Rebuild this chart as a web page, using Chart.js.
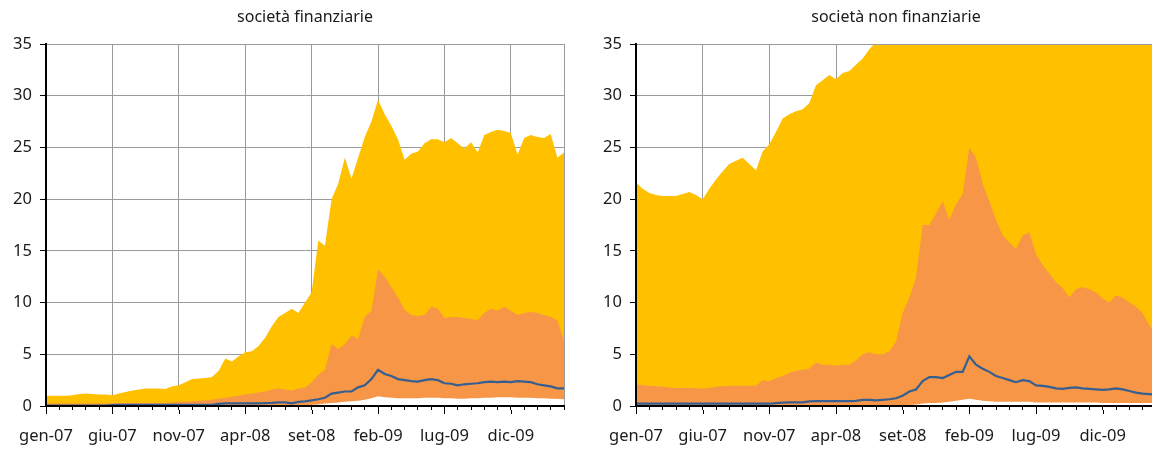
<!DOCTYPE html>
<html>
<head>
<meta charset="utf-8">
<script src="https://cdn.jsdelivr.net/npm/chart.js@4.4.0/dist/chart.umd.min.js"></script>
<style>
    html, body { margin: 0; padding: 0; background: #fff; width: 1152px; height: 450px; overflow: hidden; }
    .pannello { position: absolute; top: 0; height: 450px; }
    #pFin { left: 0; width: 580px; }
    #pNonFin { left: 590px; width: 582px; }
</style>
</head>
<body>
<div class="pannello" id="pFin"><canvas id="chartFin"></canvas></div>
<div class="pannello" id="pNonFin"><canvas id="chartNonFin"></canvas></div>
<script>
// mesi trascorsi da gennaio 2007 (passo di mezzo mese)
const mesi = [
    0, 0.5, 1, 1.5, 2, 2.5, 3, 3.5, 4, 4.5,
    5, 5.5, 6, 6.5, 7, 7.5, 8, 8.5, 9, 9.5,
    10, 10.5, 11, 11.5, 12, 12.5, 13, 13.5, 14, 14.5,
    15, 15.5, 16, 16.5, 17, 17.5, 18, 18.5, 19, 19.5,
    20, 20.5, 21, 21.5, 22, 22.5, 23, 23.5, 24, 24.5,
    25, 25.5, 26, 26.5, 27, 27.5, 28, 28.5, 29, 29.5,
    30, 30.5, 31, 31.5, 32, 32.5, 33, 33.5, 34, 34.5,
    35, 35.5, 36, 36.5, 37, 37.5, 38, 38.5, 39
];
const etichetteMesi = ['gen-07', 'giu-07', 'nov-07', 'apr-08', 'set-08', 'feb-09', 'lug-09', 'dic-09'];
const valoriAsseY = [0, 5, 10, 15, 20, 25, 30, 35];

// società finanziarie
const finGiallo = [
    1.0, 1.0, 1.0, 1.0, 1.05, 1.15, 1.2, 1.15, 1.1, 1.1,
    1.05, 1.2, 1.35, 1.5, 1.6, 1.7, 1.7, 1.7, 1.65, 1.9,
    2.0, 2.3, 2.6, 2.65, 2.7, 2.8, 3.4, 4.6, 4.3, 4.8,
    5.2, 5.3, 5.8, 6.6, 7.7, 8.6, 9.0, 9.4, 9.0, 10.0,
    11.0, 16.0, 15.5, 20.0, 21.5, 24.0, 22.0, 24.0, 26.0, 27.5,
    29.6, 28.2, 27.1, 25.8, 23.8, 24.4, 24.6, 25.4, 25.8, 25.8,
    25.5, 25.9, 25.4, 24.9, 25.5, 24.5, 26.2, 26.5, 26.7, 26.6,
    26.4, 24.3, 25.9, 26.2, 26.0, 25.9, 26.3, 24.0, 24.5
];
const finArancio = [
    0.25, 0.25, 0.25, 0.25, 0.25, 0.25, 0.25, 0.25, 0.25, 0.25,
    0.3, 0.3, 0.3, 0.3, 0.3, 0.3, 0.3, 0.3, 0.3, 0.35,
    0.4, 0.4, 0.45, 0.5, 0.55, 0.6, 0.7, 0.8, 0.9, 1.0,
    1.1, 1.2, 1.3, 1.4, 1.6, 1.7, 1.6, 1.5, 1.7, 1.8,
    2.3, 3.0, 3.5, 6.0, 5.5, 6.0, 6.8, 6.5, 8.6, 9.2,
    13.2, 12.5, 11.5, 10.5, 9.3, 8.8, 8.7, 8.8, 9.6, 9.4,
    8.5, 8.6, 8.6, 8.5, 8.4, 8.3, 9.0, 9.4, 9.2, 9.6,
    9.2, 8.8, 9.0, 9.1, 9.0, 8.8, 8.6, 8.3, 6.3
];
const finBianco = [
    0, 0, 0, 0, 0, 0, 0, 0, 0, 0,
    0, 0, 0, 0, 0, 0, 0, 0, 0, 0,
    0, 0, 0, 0, 0, 0, 0, 0, 0, 0,
    0, 0, 0, 0, 0, 0, 0, 0, 0, 0,
    0.1, 0.15, 0.25, 0.3, 0.35, 0.4, 0.45, 0.5, 0.6, 0.75,
    0.95, 0.85, 0.8, 0.75, 0.75, 0.75, 0.75, 0.8, 0.8, 0.8,
    0.75, 0.75, 0.7, 0.7, 0.75, 0.75, 0.8, 0.8, 0.85, 0.85,
    0.85, 0.8, 0.8, 0.8, 0.75, 0.75, 0.7, 0.7, 0.65
];
const finBlu = [
    0.05, 0.05, 0.05, 0.05, 0.05, 0.05, 0.05, 0.05, 0.05, 0.05,
    0.08, 0.1, 0.1, 0.1, 0.1, 0.1, 0.1, 0.1, 0.1, 0.1,
    0.1, 0.1, 0.1, 0.1, 0.1, 0.12, 0.2, 0.25, 0.25, 0.25,
    0.25, 0.25, 0.25, 0.28, 0.3, 0.35, 0.35, 0.25, 0.4, 0.45,
    0.55, 0.65, 0.8, 1.2, 1.3, 1.4, 1.4, 1.8, 2.0, 2.6,
    3.5, 3.1, 2.9, 2.6, 2.5, 2.4, 2.35, 2.5, 2.6, 2.5,
    2.2, 2.15, 2.0, 2.1, 2.15, 2.2, 2.3, 2.35, 2.3, 2.35,
    2.3, 2.4, 2.35, 2.3, 2.1, 2.0, 1.9, 1.7, 1.7
];

// società non finanziarie
const nonFinGiallo = [
    21.6, 21.0, 20.6, 20.4, 20.3, 20.3, 20.3, 20.5, 20.7, 20.4,
    20.0, 21.0, 21.9, 22.7, 23.4, 23.7, 24.0, 23.4, 22.8, 24.6,
    25.3, 26.5, 27.8, 28.2, 28.5, 28.7, 29.3, 31.0, 31.5, 32.0,
    31.6, 32.2, 32.4, 33.0, 33.6, 34.5, 35.2, 36.0, 37.0, 38.0,
    39.0, 40.0, 41.0, 42.0, 42.0, 42.0, 42.0, 42.0, 42.0, 42.0,
    42.0, 42.0, 42.0, 42.0, 42.0, 42.0, 42.0, 42.0, 42.0, 42.0,
    42.0, 42.0, 42.0, 42.0, 42.0, 42.0, 42.0, 42.0, 42.0, 42.0,
    42.0, 42.0, 42.0, 42.0, 42.0, 42.0, 42.0, 42.0, 42.0
];
const nonFinArancio = [
    2.1, 2.0, 1.95, 1.9, 1.85, 1.8, 1.75, 1.75, 1.75, 1.72,
    1.7, 1.75, 1.85, 1.9, 1.95, 1.95, 1.95, 1.95, 1.95, 2.5,
    2.4, 2.7, 2.9, 3.2, 3.4, 3.5, 3.6, 4.2, 4.0, 4.0,
    3.9, 4.0, 4.0, 4.4, 5.0, 5.2, 5.0, 5.0, 5.3, 6.2,
    9.0, 10.5, 12.4, 17.5, 17.5, 18.6, 19.8, 18.0, 19.5, 20.5,
    25.0, 24.0, 21.5, 19.8, 18.0, 16.5, 15.8, 15.2, 16.5, 16.8,
    14.7, 13.6, 12.8, 12.0, 11.4, 10.5, 11.3, 11.5, 11.3, 11.0,
    10.4, 10.0, 10.7, 10.5, 10.0, 9.6, 9.0, 7.8, 7.0
];
const nonFinBianco = [
    0, 0, 0, 0, 0, 0, 0, 0, 0, 0,
    0, 0, 0, 0, 0, 0, 0, 0, 0, 0,
    0, 0, 0, 0, 0, 0, 0, 0, 0, 0,
    0, 0, 0, 0, 0, 0, 0, 0, 0, 0,
    0.05, 0.1, 0.15, 0.25, 0.3, 0.3, 0.35, 0.4, 0.5, 0.6,
    0.7, 0.6, 0.5, 0.45, 0.4, 0.4, 0.4, 0.4, 0.4, 0.4,
    0.35, 0.35, 0.35, 0.35, 0.35, 0.35, 0.35, 0.35, 0.35, 0.35,
    0.3, 0.3, 0.3, 0.3, 0.3, 0.3, 0.3, 0.3, 0.3
];
const nonFinBlu = [
    0.22, 0.22, 0.22, 0.22, 0.22, 0.22, 0.22, 0.22, 0.22, 0.22,
    0.22, 0.22, 0.22, 0.22, 0.22, 0.22, 0.22, 0.22, 0.22, 0.22,
    0.22, 0.28, 0.32, 0.35, 0.35, 0.35, 0.45, 0.48, 0.48, 0.48,
    0.48, 0.48, 0.48, 0.5, 0.6, 0.6, 0.55, 0.6, 0.65, 0.75,
    1.0, 1.4, 1.6, 2.4, 2.8, 2.8, 2.7, 3.0, 3.3, 3.3,
    4.8, 4.0, 3.6, 3.3, 2.9, 2.7, 2.5, 2.3, 2.5, 2.4,
    2.0, 1.95, 1.85, 1.7, 1.65, 1.75, 1.8, 1.7, 1.65, 1.6,
    1.55, 1.6, 1.7, 1.6, 1.45, 1.3, 1.2, 1.15, 1.1
];

(() => {
    const FONT = "'Noto Sans', 'DejaVu Sans', sans-serif";
    const GRIGIO = '#9a9a9a';
    const X_MAX = 39;

    const punti = (arr) => mesi.map((m, i) => ({ x: m, y: arr[i] }));

    const area = (arr, colore, ordine) => ({
        data: punti(arr),
        backgroundColor: colore,
        borderWidth: 0,
        pointRadius: 0,
        fill: 'origin',
        tension: 0,
        order: ordine
    });

    // linea superiore sopra l'area e tacche lunghe sui mesi etichettati
    const rifiniture = {
        id: 'rifiniture',
        afterDatasetsDraw(chart) {
            const { ctx, chartArea: a } = chart;
            ctx.save();
            ctx.strokeStyle = GRIGIO;
            ctx.lineWidth = 1;
            ctx.beginPath();
            ctx.moveTo(a.left, a.top + 0.5);
            ctx.lineTo(a.right, a.top + 0.5);
            ctx.stroke();
            ctx.restore();
        },
        afterDraw(chart) {
            const { ctx, chartArea: a, scales: { x } } = chart;
            ctx.save();
            ctx.strokeStyle = '#000';
            ctx.lineWidth = 1;
            x.ticks.forEach(t => {
                if (t.value % 5 !== 0 || t.value >= X_MAX) return;
                const px = Math.round(x.getPixelForValue(t.value)) + 0.5;
                ctx.beginPath();
                ctx.moveTo(px, a.bottom + 4);
                ctx.lineTo(px, a.bottom + 8);
                ctx.stroke();
            });
            ctx.restore();
        }
    };

    function buildChart(id, titolo, giallo, arancio, bianco, blu) {
        const ctx = document.getElementById(id).getContext('2d');
        return new Chart(ctx, {
            type: 'line',
            data: {
                datasets: [
                    {
                        data: punti(blu),
                        borderColor: '#365f91',
                        borderWidth: 2.2,
                        pointRadius: 0,
                        fill: false,
                        tension: 0,
                        order: 0
                    },
                    area(bianco, '#ffffff', 1),
                    area(arancio, '#f79646', 2),
                    area(giallo, '#ffc000', 3)
                ]
            },
            options: {
                animation: false,
                responsive: true,
                maintainAspectRatio: false,
                devicePixelRatio: 1,
                layout: { padding: { left: 0, right: 15, top: 0, bottom: 0 } },
                scales: {
                    x: {
                        type: 'linear',
                        min: 0,
                        max: X_MAX,
                        afterFit: (s) => { s.height = 44; },
                        border: { color: '#000', width: 2, z: 1 },
                        grid: {
                            color: (c) => (c.tick && c.tick.value > 0 && (c.tick.value % 5 === 0 || c.tick.value === X_MAX)) ? GRIGIO : 'rgba(0,0,0,0)',
                            tickColor: '#000',
                            tickLength: 4,
                            lineWidth: 1
                        },
                        ticks: {
                            stepSize: 1,
                            autoSkip: false,
                            maxRotation: 0,
                            padding: 16,
                            color: '#1a1a1a',
                            font: { family: FONT, size: 16.5 },
                            callback: (v) => (v % 5 === 0 && v / 5 < etichetteMesi.length) ? etichetteMesi[v / 5] : ''
                        }
                    },
                    y: {
                        min: valoriAsseY[0],
                        max: valoriAsseY[valoriAsseY.length - 1],
                        afterFit: (s) => { s.width = 46; },
                        border: { color: '#000', width: 2, z: 1 },
                        grid: {
                            color: GRIGIO,
                            tickColor: '#000',
                            tickLength: 6,
                            lineWidth: 1
                        },
                        ticks: {
                            stepSize: 5,
                            padding: 8,
                            color: '#1a1a1a',
                            font: { family: FONT, size: 16.5 }
                        }
                    }
                },
                plugins: {
                    legend: { display: false },
                    tooltip: { enabled: false },
                    title: {
                        display: true,
                        text: titolo,
                        fullSize: false,
                        color: '#1a1a1a',
                        font: { family: FONT, size: 16, weight: 'normal' },
                        padding: { top: 8, bottom: 16.8 }
                    }
                }
            },
            plugins: [rifiniture]
        });
    }

    buildChart('chartFin', 'società finanziarie', finGiallo, finArancio, finBianco, finBlu);
    buildChart('chartNonFin', 'società non finanziarie', nonFinGiallo, nonFinArancio, nonFinBianco, nonFinBlu);
})();
</script>
</body>
</html>
